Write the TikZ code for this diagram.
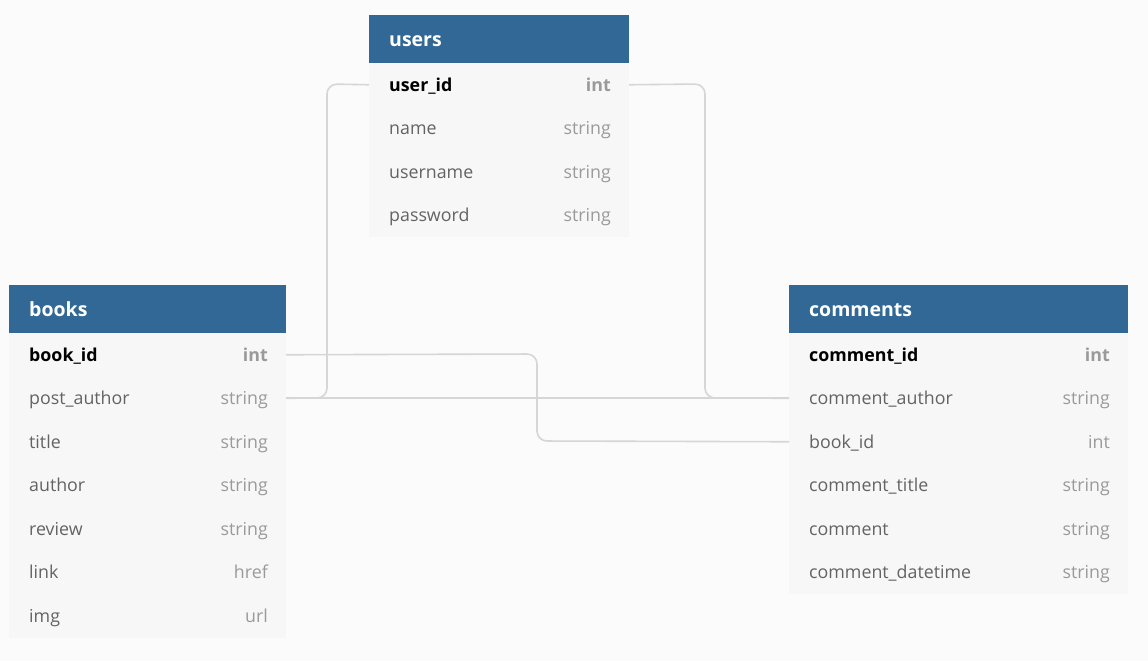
\documentclass[tikz,border=0pt]{standalone}
\usepackage{fontspec}
\setmainfont{Open Sans}
\definecolor{bgc}{HTML}{FBFBFB}
\definecolor{bodyc}{HTML}{F7F7F7}
\definecolor{hdrc}{HTML}{316896}
\definecolor{namec}{HTML}{636363}
\definecolor{typec}{HTML}{9A9A9A}
\definecolor{linec}{HTML}{D6D6D6}
\begin{document}
\begin{tikzpicture}[x=1pt,y=-1pt,
  hdr/.style={fill=hdrc, draw=none, anchor=north west, minimum height=48pt, inner sep=0pt, outer sep=0pt},
  rowbox/.style={fill=bodyc, draw=none, anchor=north west, minimum height=43.5pt, inner sep=0pt, outer sep=0pt},
  htext/.style={anchor=mid west, yshift=-4.5pt, text=white, font=\fontsize{19.5}{22}\selectfont\bfseries, inner sep=0pt},
  fname/.style={anchor=mid west, yshift=-4pt, text=namec, font=\fontsize{17.8}{21}\selectfont, inner sep=0pt},
  ftype/.style={anchor=mid east, yshift=-4pt, text=typec, font=\fontsize{17.8}{21}\selectfont, inner sep=0pt},
  kname/.style={fname, text=black, font=\fontsize{17.8}{21}\selectfont\bfseries},
  ktype/.style={ftype, font=\fontsize{17.8}{21}\selectfont\bfseries},
  rel/.style={draw=linec, line width=1.6pt, rounded corners=10pt}
]
\fill[bgc] (0,0) rectangle (1148,661);
\useasboundingbox (0,0) rectangle (1148,661);

% ---------- users ----------
\node[hdr, minimum width=260pt] (uh) at (369,15) {};
\node[htext] at ([xshift=20pt]uh.west) {users};
\node[rowbox, minimum width=260pt] (u1) at (369,63) {};
\node[rowbox, minimum width=260pt] (u2) at (369,106.5) {};
\node[rowbox, minimum width=260pt] (u3) at (369,150) {};
\node[rowbox, minimum width=260pt] (u4) at (369,193.5) {};
\node[kname] at ([xshift=20pt]u1.west) {user\_id};
\node[ktype] at ([xshift=-18pt]u1.east) {int};
\node[fname] at ([xshift=20pt]u2.west) {name};
\node[ftype] at ([xshift=-18pt]u2.east) {string};
\node[fname] at ([xshift=20pt]u3.west) {username};
\node[ftype] at ([xshift=-18pt]u3.east) {string};
\node[fname] at ([xshift=20pt]u4.west) {password};
\node[ftype] at ([xshift=-18pt]u4.east) {string};

% ---------- books ----------
\node[hdr, minimum width=277pt] (bh) at (9,285) {};
\node[htext] at ([xshift=20pt]bh.west) {books};
\node[rowbox, minimum width=277pt] (b1) at (9,333) {};
\node[rowbox, minimum width=277pt] (b2) at (9,376.5) {};
\node[rowbox, minimum width=277pt] (b3) at (9,420) {};
\node[rowbox, minimum width=277pt] (b4) at (9,463.5) {};
\node[rowbox, minimum width=277pt] (b5) at (9,507) {};
\node[rowbox, minimum width=277pt] (b6) at (9,550.5) {};
\node[rowbox, minimum width=277pt] (b7) at (9,594) {};
\node[kname] at ([xshift=20pt]b1.west) {book\_id};
\node[ktype] at ([xshift=-18pt]b1.east) {int};
\node[fname] at ([xshift=20pt]b2.west) {post\_author};
\node[ftype] at ([xshift=-18pt]b2.east) {string};
\node[fname] at ([xshift=20pt]b3.west) {title};
\node[ftype] at ([xshift=-18pt]b3.east) {string};
\node[fname] at ([xshift=20pt]b4.west) {author};
\node[ftype] at ([xshift=-18pt]b4.east) {string};
\node[fname] at ([xshift=20pt]b5.west) {review};
\node[ftype] at ([xshift=-18pt]b5.east) {string};
\node[fname] at ([xshift=20pt]b6.west) {link};
\node[ftype] at ([xshift=-18pt]b6.east) {href};
\node[fname] at ([xshift=20pt]b7.west) {img};
\node[ftype] at ([xshift=-18pt]b7.east) {url};

% ---------- comments ----------
\node[hdr, minimum width=339pt] (ch) at (789,285) {};
\node[htext] at ([xshift=20pt]ch.west) {comments};
\node[rowbox, minimum width=339pt] (c1) at (789,333) {};
\node[rowbox, minimum width=339pt] (c2) at (789,376.5) {};
\node[rowbox, minimum width=339pt] (c3) at (789,420) {};
\node[rowbox, minimum width=339pt] (c4) at (789,463.5) {};
\node[rowbox, minimum width=339pt] (c5) at (789,507) {};
\node[rowbox, minimum width=339pt] (c6) at (789,550.5) {};
\node[kname] at ([xshift=20pt]c1.west) {comment\_id};
\node[ktype] at ([xshift=-18pt]c1.east) {int};
\node[fname] at ([xshift=20pt]c2.west) {comment\_author};
\node[ftype] at ([xshift=-18pt]c2.east) {string};
\node[fname] at ([xshift=20pt]c3.west) {book\_id};
\node[ftype] at ([xshift=-18pt]c3.east) {int};
\node[fname] at ([xshift=20pt]c4.west) {comment\_title};
\node[ftype] at ([xshift=-18pt]c4.east) {string};
\node[fname] at ([xshift=20pt]c5.west) {comment};
\node[ftype] at ([xshift=-18pt]c5.east) {string};
\node[fname] at ([xshift=20pt]c6.west) {comment\_datetime};
\node[ftype] at ([xshift=-18pt]c6.east) {string};

% ---------- relations ----------
\draw[rel] (u1.west) -- (327,84) -- (327,398) -- (b2.east);
\draw[rel] (u1.east) -- (705,84) -- (705,398) -- (c2.west);
\draw[rel] (b2.east) -- (c2.west);
\draw[rel] (b1.east) -- (537,354) -- (537,441) -- (c3.west);
\end{tikzpicture}
\end{document}
